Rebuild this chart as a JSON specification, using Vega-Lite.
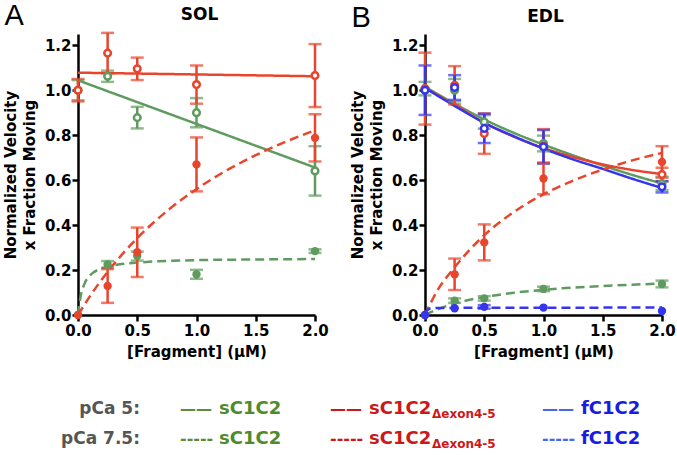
{
  "$schema": "https://vega.github.io/schema/vega-lite/v6.json",
  "padding": {"left": 3, "top": 1, "right": 0, "bottom": 0},
  "config": {
    "font": "DejaVu Sans",
    "view": {"stroke": null},
    "axis": {"grid": false, "domainColor": "black", "domainWidth": 2.5, "tickColor": "black", "tickWidth": 2.5, "tickSize": 6, "labelFont": "DejaVu Sans", "labelFontSize": 15, "labelFontWeight": "bold", "labelColor": "black", "titleFont": "DejaVu Sans", "titleFontSize": 15, "titleFontWeight": "bold", "titleColor": "black"},
    "title": {"color": "black"}
  },
  "datasets": {
    "points": [
      {"panel": "SOL", "construct": "sC1C2", "pCa": "5", "x": 0, "y": 1.0, "err": 0.045},
      {"panel": "SOL", "construct": "sC1C2", "pCa": "5", "x": 0.25, "y": 1.062, "err": 0.025},
      {"panel": "SOL", "construct": "sC1C2", "pCa": "5", "x": 0.5, "y": 0.878, "err": 0.048},
      {"panel": "SOL", "construct": "sC1C2", "pCa": "5", "x": 1, "y": 0.9, "err": 0.065},
      {"panel": "SOL", "construct": "sC1C2", "pCa": "5", "x": 2, "y": 0.641, "err": 0.11},
      {"panel": "SOL", "construct": "sC1C2Δ", "pCa": "5", "x": 0, "y": 1.0, "err": 0.05},
      {"panel": "SOL", "construct": "sC1C2Δ", "pCa": "5", "x": 0.25, "y": 1.165, "err": 0.09},
      {"panel": "SOL", "construct": "sC1C2Δ", "pCa": "5", "x": 0.5, "y": 1.095, "err": 0.05},
      {"panel": "SOL", "construct": "sC1C2Δ", "pCa": "5", "x": 1, "y": 1.025, "err": 0.085},
      {"panel": "SOL", "construct": "sC1C2Δ", "pCa": "5", "x": 2, "y": 1.065, "err": 0.14},
      {"panel": "SOL", "construct": "sC1C2", "pCa": "7.5", "x": 0, "y": 0, "err": null},
      {"panel": "SOL", "construct": "sC1C2", "pCa": "7.5", "x": 0.25, "y": 0.225, "err": 0.015},
      {"panel": "SOL", "construct": "sC1C2", "pCa": "7.5", "x": 0.5, "y": 0.262, "err": 0.02},
      {"panel": "SOL", "construct": "sC1C2", "pCa": "7.5", "x": 1, "y": 0.181, "err": 0.02},
      {"panel": "SOL", "construct": "sC1C2", "pCa": "7.5", "x": 2, "y": 0.284, "err": 0.008},
      {"panel": "SOL", "construct": "sC1C2Δ", "pCa": "7.5", "x": 0, "y": 0, "err": null},
      {"panel": "SOL", "construct": "sC1C2Δ", "pCa": "7.5", "x": 0.25, "y": 0.129, "err": 0.075},
      {"panel": "SOL", "construct": "sC1C2Δ", "pCa": "7.5", "x": 0.5, "y": 0.279, "err": 0.11},
      {"panel": "SOL", "construct": "sC1C2Δ", "pCa": "7.5", "x": 1, "y": 0.67, "err": 0.12},
      {"panel": "SOL", "construct": "sC1C2Δ", "pCa": "7.5", "x": 2, "y": 0.788, "err": 0.105},
      {"panel": "EDL", "construct": "sC1C2", "pCa": "5", "x": 0, "y": 1.007, "err": 0.03},
      {"panel": "EDL", "construct": "sC1C2", "pCa": "5", "x": 0.25, "y": 1.0, "err": 0.05},
      {"panel": "EDL", "construct": "sC1C2", "pCa": "5", "x": 0.5, "y": 0.859, "err": 0.03},
      {"panel": "EDL", "construct": "sC1C2", "pCa": "5", "x": 1, "y": 0.763, "err": 0.035},
      {"panel": "EDL", "construct": "sC1C2", "pCa": "5", "x": 2, "y": 0.585, "err": 0.03},
      {"panel": "EDL", "construct": "sC1C2Δ", "pCa": "5", "x": 0, "y": 1.007, "err": 0.16},
      {"panel": "EDL", "construct": "sC1C2Δ", "pCa": "5", "x": 0.25, "y": 1.022, "err": 0.085},
      {"panel": "EDL", "construct": "sC1C2Δ", "pCa": "5", "x": 0.5, "y": 0.807, "err": 0.09},
      {"panel": "EDL", "construct": "sC1C2Δ", "pCa": "5", "x": 1, "y": 0.752, "err": 0.075},
      {"panel": "EDL", "construct": "sC1C2Δ", "pCa": "5", "x": 2, "y": 0.625, "err": 0.03},
      {"panel": "EDL", "construct": "fC1C2", "pCa": "5", "x": 0, "y": 1.0, "err": 0.11},
      {"panel": "EDL", "construct": "fC1C2", "pCa": "5", "x": 0.25, "y": 1.012, "err": 0.055},
      {"panel": "EDL", "construct": "fC1C2", "pCa": "5", "x": 0.5, "y": 0.83, "err": 0.065},
      {"panel": "EDL", "construct": "fC1C2", "pCa": "5", "x": 1, "y": 0.748, "err": 0.075},
      {"panel": "EDL", "construct": "fC1C2", "pCa": "5", "x": 2, "y": 0.57, "err": 0.025},
      {"panel": "EDL", "construct": "sC1C2", "pCa": "7.5", "x": 0, "y": 0, "err": null},
      {"panel": "EDL", "construct": "sC1C2", "pCa": "7.5", "x": 0.25, "y": 0.064, "err": 0.01},
      {"panel": "EDL", "construct": "sC1C2", "pCa": "7.5", "x": 0.5, "y": 0.074, "err": 0.01},
      {"panel": "EDL", "construct": "sC1C2", "pCa": "7.5", "x": 1, "y": 0.116, "err": 0.01},
      {"panel": "EDL", "construct": "sC1C2", "pCa": "7.5", "x": 2, "y": 0.138, "err": 0.015},
      {"panel": "EDL", "construct": "sC1C2Δ", "pCa": "7.5", "x": 0, "y": 0, "err": null},
      {"panel": "EDL", "construct": "sC1C2Δ", "pCa": "7.5", "x": 0.25, "y": 0.181, "err": 0.07},
      {"panel": "EDL", "construct": "sC1C2Δ", "pCa": "7.5", "x": 0.5, "y": 0.323, "err": 0.08},
      {"panel": "EDL", "construct": "sC1C2Δ", "pCa": "7.5", "x": 1, "y": 0.607, "err": 0.07},
      {"panel": "EDL", "construct": "sC1C2Δ", "pCa": "7.5", "x": 2, "y": 0.681, "err": 0.07},
      {"panel": "EDL", "construct": "fC1C2", "pCa": "7.5", "x": 0, "y": 0, "err": null},
      {"panel": "EDL", "construct": "fC1C2", "pCa": "7.5", "x": 0.25, "y": 0.03, "err": null},
      {"panel": "EDL", "construct": "fC1C2", "pCa": "7.5", "x": 0.5, "y": 0.036, "err": 0.008},
      {"panel": "EDL", "construct": "fC1C2", "pCa": "7.5", "x": 1, "y": 0.033, "err": null},
      {"panel": "EDL", "construct": "fC1C2", "pCa": "7.5", "x": 2, "y": 0.018, "err": null}
    ],
    "fits": [
      {"panel": "SOL", "construct": "sC1C2", "pCa": "5", "x": 0, "y": 1.044},
      {"panel": "SOL", "construct": "sC1C2", "pCa": "5", "x": 2, "y": 0.656},
      {"panel": "SOL", "construct": "sC1C2Δ", "pCa": "5", "x": 0, "y": 1.078},
      {"panel": "SOL", "construct": "sC1C2Δ", "pCa": "5", "x": 2, "y": 1.062},
      {"panel": "SOL", "construct": "sC1C2", "pCa": "7.5", "x": 0, "y": 0},
      {"panel": "SOL", "construct": "sC1C2", "pCa": "7.5", "x": 0.02, "y": 0.077},
      {"panel": "SOL", "construct": "sC1C2", "pCa": "7.5", "x": 0.05, "y": 0.133},
      {"panel": "SOL", "construct": "sC1C2", "pCa": "7.5", "x": 0.1, "y": 0.175},
      {"panel": "SOL", "construct": "sC1C2", "pCa": "7.5", "x": 0.2, "y": 0.207},
      {"panel": "SOL", "construct": "sC1C2", "pCa": "7.5", "x": 0.3, "y": 0.221},
      {"panel": "SOL", "construct": "sC1C2", "pCa": "7.5", "x": 0.5, "y": 0.233},
      {"panel": "SOL", "construct": "sC1C2", "pCa": "7.5", "x": 1, "y": 0.244},
      {"panel": "SOL", "construct": "sC1C2", "pCa": "7.5", "x": 1.5, "y": 0.247},
      {"panel": "SOL", "construct": "sC1C2", "pCa": "7.5", "x": 2, "y": 0.249},
      {"panel": "SOL", "construct": "sC1C2Δ", "pCa": "7.5", "x": 0, "y": 0},
      {"panel": "SOL", "construct": "sC1C2Δ", "pCa": "7.5", "x": 0.1, "y": 0.083},
      {"panel": "SOL", "construct": "sC1C2Δ", "pCa": "7.5", "x": 0.25, "y": 0.192},
      {"panel": "SOL", "construct": "sC1C2Δ", "pCa": "7.5", "x": 0.5, "y": 0.342},
      {"panel": "SOL", "construct": "sC1C2Δ", "pCa": "7.5", "x": 0.75, "y": 0.462},
      {"panel": "SOL", "construct": "sC1C2Δ", "pCa": "7.5", "x": 1, "y": 0.56},
      {"panel": "SOL", "construct": "sC1C2Δ", "pCa": "7.5", "x": 1.25, "y": 0.642},
      {"panel": "SOL", "construct": "sC1C2Δ", "pCa": "7.5", "x": 1.5, "y": 0.711},
      {"panel": "SOL", "construct": "sC1C2Δ", "pCa": "7.5", "x": 1.75, "y": 0.77},
      {"panel": "SOL", "construct": "sC1C2Δ", "pCa": "7.5", "x": 2, "y": 0.822},
      {"panel": "EDL", "construct": "sC1C2", "pCa": "5", "x": 0, "y": 1.015},
      {"panel": "EDL", "construct": "sC1C2", "pCa": "5", "x": 0.25, "y": 0.94},
      {"panel": "EDL", "construct": "sC1C2", "pCa": "5", "x": 0.5, "y": 0.87},
      {"panel": "EDL", "construct": "sC1C2", "pCa": "5", "x": 0.75, "y": 0.81},
      {"panel": "EDL", "construct": "sC1C2", "pCa": "5", "x": 1, "y": 0.758},
      {"panel": "EDL", "construct": "sC1C2", "pCa": "5", "x": 1.25, "y": 0.71},
      {"panel": "EDL", "construct": "sC1C2", "pCa": "5", "x": 1.5, "y": 0.665},
      {"panel": "EDL", "construct": "sC1C2", "pCa": "5", "x": 1.75, "y": 0.623},
      {"panel": "EDL", "construct": "sC1C2", "pCa": "5", "x": 2, "y": 0.585},
      {"panel": "EDL", "construct": "sC1C2Δ", "pCa": "5", "x": 0, "y": 1.01},
      {"panel": "EDL", "construct": "sC1C2Δ", "pCa": "5", "x": 0.25, "y": 0.935},
      {"panel": "EDL", "construct": "sC1C2Δ", "pCa": "5", "x": 0.5, "y": 0.855},
      {"panel": "EDL", "construct": "sC1C2Δ", "pCa": "5", "x": 0.75, "y": 0.793},
      {"panel": "EDL", "construct": "sC1C2Δ", "pCa": "5", "x": 1, "y": 0.743},
      {"panel": "EDL", "construct": "sC1C2Δ", "pCa": "5", "x": 1.25, "y": 0.703},
      {"panel": "EDL", "construct": "sC1C2Δ", "pCa": "5", "x": 1.5, "y": 0.67},
      {"panel": "EDL", "construct": "sC1C2Δ", "pCa": "5", "x": 1.75, "y": 0.645},
      {"panel": "EDL", "construct": "sC1C2Δ", "pCa": "5", "x": 2, "y": 0.627},
      {"panel": "EDL", "construct": "fC1C2", "pCa": "5", "x": 0, "y": 1.01},
      {"panel": "EDL", "construct": "fC1C2", "pCa": "5", "x": 0.25, "y": 0.93},
      {"panel": "EDL", "construct": "fC1C2", "pCa": "5", "x": 0.5, "y": 0.855},
      {"panel": "EDL", "construct": "fC1C2", "pCa": "5", "x": 0.75, "y": 0.795},
      {"panel": "EDL", "construct": "fC1C2", "pCa": "5", "x": 1, "y": 0.74},
      {"panel": "EDL", "construct": "fC1C2", "pCa": "5", "x": 1.25, "y": 0.692},
      {"panel": "EDL", "construct": "fC1C2", "pCa": "5", "x": 1.5, "y": 0.65},
      {"panel": "EDL", "construct": "fC1C2", "pCa": "5", "x": 1.75, "y": 0.606},
      {"panel": "EDL", "construct": "fC1C2", "pCa": "5", "x": 2, "y": 0.565},
      {"panel": "EDL", "construct": "sC1C2", "pCa": "7.5", "x": 0, "y": 0},
      {"panel": "EDL", "construct": "sC1C2", "pCa": "7.5", "x": 0.1, "y": 0.024},
      {"panel": "EDL", "construct": "sC1C2", "pCa": "7.5", "x": 0.25, "y": 0.051},
      {"panel": "EDL", "construct": "sC1C2", "pCa": "7.5", "x": 0.5, "y": 0.08},
      {"panel": "EDL", "construct": "sC1C2", "pCa": "7.5", "x": 0.75, "y": 0.099},
      {"panel": "EDL", "construct": "sC1C2", "pCa": "7.5", "x": 1, "y": 0.112},
      {"panel": "EDL", "construct": "sC1C2", "pCa": "7.5", "x": 1.25, "y": 0.122},
      {"panel": "EDL", "construct": "sC1C2", "pCa": "7.5", "x": 1.5, "y": 0.129},
      {"panel": "EDL", "construct": "sC1C2", "pCa": "7.5", "x": 1.75, "y": 0.135},
      {"panel": "EDL", "construct": "sC1C2", "pCa": "7.5", "x": 2, "y": 0.14},
      {"panel": "EDL", "construct": "sC1C2Δ", "pCa": "7.5", "x": 0, "y": 0},
      {"panel": "EDL", "construct": "sC1C2Δ", "pCa": "7.5", "x": 0.1, "y": 0.105},
      {"panel": "EDL", "construct": "sC1C2Δ", "pCa": "7.5", "x": 0.25, "y": 0.212},
      {"panel": "EDL", "construct": "sC1C2Δ", "pCa": "7.5", "x": 0.5, "y": 0.355},
      {"panel": "EDL", "construct": "sC1C2Δ", "pCa": "7.5", "x": 0.75, "y": 0.458},
      {"panel": "EDL", "construct": "sC1C2Δ", "pCa": "7.5", "x": 1, "y": 0.537},
      {"panel": "EDL", "construct": "sC1C2Δ", "pCa": "7.5", "x": 1.25, "y": 0.598},
      {"panel": "EDL", "construct": "sC1C2Δ", "pCa": "7.5", "x": 1.5, "y": 0.647},
      {"panel": "EDL", "construct": "sC1C2Δ", "pCa": "7.5", "x": 1.75, "y": 0.688},
      {"panel": "EDL", "construct": "sC1C2Δ", "pCa": "7.5", "x": 2, "y": 0.721},
      {"panel": "EDL", "construct": "fC1C2", "pCa": "7.5", "x": 0, "y": 0},
      {"panel": "EDL", "construct": "fC1C2", "pCa": "7.5", "x": 0.02, "y": 0.022},
      {"panel": "EDL", "construct": "fC1C2", "pCa": "7.5", "x": 0.05, "y": 0.029},
      {"panel": "EDL", "construct": "fC1C2", "pCa": "7.5", "x": 0.1, "y": 0.031},
      {"panel": "EDL", "construct": "fC1C2", "pCa": "7.5", "x": 0.5, "y": 0.032},
      {"panel": "EDL", "construct": "fC1C2", "pCa": "7.5", "x": 2, "y": 0.033}
    ],
    "legend": [
      {"row": "pCa 5:", "slot": 0},
      {"row": "pCa 7.5:", "slot": 0},
      {"row": "pCa 5:", "slot": 1, "construct": "sC1C2", "sample": "——", "name": "sC1C2", "sub": ""},
      {"row": "pCa 5:", "slot": 2, "construct": "sC1C2Δ", "sample": "——", "name": "sC1C2", "sub": "Δexon4-5"},
      {"row": "pCa 5:", "slot": 3, "construct": "fC1C2", "sample": "——", "name": "fC1C2", "sub": ""},
      {"row": "pCa 7.5:", "slot": 1, "construct": "sC1C2", "sample": "-----", "name": "sC1C2", "sub": ""},
      {"row": "pCa 7.5:", "slot": 2, "construct": "sC1C2Δ", "sample": "-----", "name": "sC1C2", "sub": "Δexon4-5"},
      {"row": "pCa 7.5:", "slot": 3, "construct": "fC1C2", "sample": "-----", "name": "fC1C2", "sub": ""}
    ]
  },
  "vconcat": [
    {
      "hconcat": [
        {
          "title": {"text": "A", "anchor": "start", "frame": "bounds", "font": "Liberation Sans", "fontSize": 29, "fontWeight": "normal", "offset": -25, "dx": 1},
          "vconcat": [
            {
              "width": 237, "height": 281,
              "title": {"text": "SOL", "frame": "group", "anchor": "middle", "fontSize": 17, "fontWeight": "bold", "offset": 8, "dx": 3},
              "encoding": {
                "x": {"field": "x", "type": "quantitative", "scale": {"domain": [0, 2], "nice": false}, "axis": {"values": [0, 0.5, 1, 1.5, 2], "format": ".1f", "title": "[Fragment] (µM)", "labelFlush": false, "labelPadding": 2, "titlePadding": 6}},
                "y": {"field": "y", "type": "quantitative", "scale": {"domain": [0, 1.25], "nice": false, "zero": false}, "axis": {"values": [0, 0.2, 0.4, 0.6, 0.8, 1, 1.2], "format": ".1f", "title": ["Normalized Velocity", "x Fraction Moving"], "labelFlush": false, "labelPadding": 1, "titlePadding": 7, "titleLineHeight": 19}}
              },
              "layer": [
                {"data": {"name": "fits"}, "transform": [{"filter": "datum.panel == 'SOL'"}], "mark": {"type": "line", "strokeWidth": 2.5, "interpolate": "monotone"},
                 "encoding": {"color": {"field": "construct", "type": "nominal", "scale": {"domain": ["sC1C2", "sC1C2Δ", "fC1C2"], "range": ["#5f9b5f", "#e8452c", "#3535ee"]}, "legend": null},
                              "strokeDash": {"field": "pCa", "type": "nominal", "scale": {"domain": ["5", "7.5"], "range": [[1, 0], [9, 5]]}, "legend": null}}},
                {"data": {"name": "points"}, "transform": [{"filter": "datum.panel == 'SOL' && datum.err != null"}], "mark": {"type": "errorbar", "ticks": true, "thickness": 2.5, "size": 13},
                 "encoding": {"yError": {"field": "err"}, "color": {"field": "construct", "type": "nominal", "legend": null}}},
                {"data": {"name": "points"}, "transform": [{"filter": "datum.panel == 'SOL' && datum.pCa == '5'"}], "mark": {"type": "point", "filled": false, "fill": "white", "strokeWidth": 2.5, "size": 44, "opacity": 1},
                 "encoding": {"color": {"field": "construct", "type": "nominal", "legend": null}}},
                {"data": {"name": "points"}, "transform": [{"filter": "datum.panel == 'SOL' && datum.pCa == '7.5'"}], "mark": {"type": "circle", "size": 70, "opacity": 1},
                 "encoding": {"color": {"field": "construct", "type": "nominal", "legend": null}}}
              ]
            }
          ]
        },
        {
          "title": {"text": "B", "anchor": "start", "frame": "bounds", "font": "Liberation Sans", "fontSize": 29, "fontWeight": "normal", "offset": -25, "dx": 1},
          "vconcat": [
            {
              "width": 237, "height": 281,
              "title": {"text": "EDL", "frame": "group", "anchor": "middle", "fontSize": 17, "fontWeight": "bold", "offset": 8, "dx": 2},
              "encoding": {
                "x": {"field": "x", "type": "quantitative", "scale": {"domain": [0, 2], "nice": false}, "axis": {"values": [0, 0.5, 1, 1.5, 2], "format": ".1f", "title": "[Fragment] (µM)", "labelFlush": false, "labelPadding": 2, "titlePadding": 6}},
                "y": {"field": "y", "type": "quantitative", "scale": {"domain": [0, 1.25], "nice": false, "zero": false}, "axis": {"values": [0, 0.2, 0.4, 0.6, 0.8, 1, 1.2], "format": ".1f", "title": ["Normalized Velocity", "x Fraction Moving"], "labelFlush": false, "labelPadding": 1, "titlePadding": 7, "titleLineHeight": 19}}
              },
              "layer": [
                {"data": {"name": "fits"}, "transform": [{"filter": "datum.panel == 'EDL'"}], "mark": {"type": "line", "strokeWidth": 2.5, "interpolate": "monotone"},
                 "encoding": {"color": {"field": "construct", "type": "nominal", "scale": {"domain": ["sC1C2", "sC1C2Δ", "fC1C2"], "range": ["#5f9b5f", "#e8452c", "#3535ee"]}, "legend": null},
                              "strokeDash": {"field": "pCa", "type": "nominal", "scale": {"domain": ["5", "7.5"], "range": [[1, 0], [9, 5]]}, "legend": null}}},
                {"data": {"name": "points"}, "transform": [{"filter": "datum.panel == 'EDL' && datum.err != null"}], "mark": {"type": "errorbar", "ticks": true, "thickness": 2.5, "size": 13},
                 "encoding": {"yError": {"field": "err"}, "color": {"field": "construct", "type": "nominal", "legend": null}}},
                {"data": {"name": "points"}, "transform": [{"filter": "datum.panel == 'EDL' && datum.pCa == '5'"}], "mark": {"type": "point", "filled": false, "fill": "white", "strokeWidth": 2.5, "size": 44, "opacity": 1},
                 "encoding": {"color": {"field": "construct", "type": "nominal", "legend": null}}},
                {"data": {"name": "points"}, "transform": [{"filter": "datum.panel == 'EDL' && datum.pCa == '7.5'"}], "mark": {"type": "circle", "size": 70, "opacity": 1},
                 "encoding": {"color": {"field": "construct", "type": "nominal", "legend": null}}}
              ]
            }
          ]
        }
      ],
      "spacing": 21
    },
    {
      "width": 560, "height": 30,
      "data": {"name": "legend"},
      "encoding": {
        "x": {"field": "slot", "type": "quantitative", "scale": {"domain": [0, 1, 2, 3], "range": [62, 102, 252, 464]}, "axis": null},
        "y": {"field": "row", "type": "nominal", "scale": {"type": "point", "domain": ["pCa 5:", "pCa 7.5:"], "range": [0, 30], "padding": 0}, "axis": null}
      },
      "layer": [
        {"transform": [{"filter": "datum.slot == 0"}], "mark": {"type": "text", "align": "right", "baseline": "middle", "fontSize": 17, "fontWeight": "bold", "color": "#555555"}, "encoding": {"text": {"field": "row"}}},
        {"transform": [{"filter": "datum.slot > 0"}], "mark": {"type": "text", "align": "left", "baseline": "middle", "fontSize": 16, "fontWeight": "bold"},
         "encoding": {"text": {"field": "sample"}, "color": {"field": "construct", "type": "nominal", "scale": {"domain": ["sC1C2", "sC1C2Δ", "fC1C2"], "range": ["#5b8b3b", "#cc1818", "#4a66ee"]}, "legend": null}}},
        {"transform": [{"filter": "datum.slot > 0"}], "mark": {"type": "text", "align": "left", "baseline": "middle", "fontSize": 18, "fontWeight": "bold", "dx": 39},
         "encoding": {"text": {"field": "name"}, "color": {"field": "construct", "type": "nominal", "scale": {"domain": ["sC1C2", "sC1C2Δ", "fC1C2"], "range": ["#4f8a2c", "#cc1818", "#1a1ae0"]}, "legend": null}}},
        {"transform": [{"filter": "datum.sub"}], "mark": {"type": "text", "align": "left", "baseline": "alphabetic", "fontSize": 12, "fontWeight": "bold", "dx": 102, "dy": 9, "color": "#cc1818"},
         "encoding": {"text": {"field": "sub"}}}
      ],
      "resolve": {"scale": {"color": "independent"}}
    }
  ],
  "spacing": 41
}
